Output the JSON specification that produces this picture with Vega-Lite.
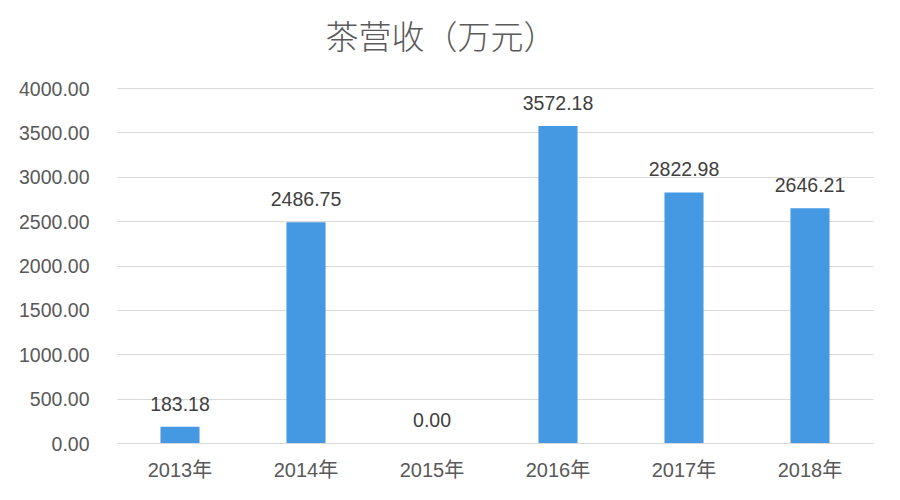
{
  "$schema": "https://vega.github.io/schema/vega-lite/v6.json",
  "autosize": "none",
  "width": 756,
  "height": 355,
  "padding": {"left": 117, "top": 88, "right": 27, "bottom": 57},
  "background": "white",
  "config": {
    "view": {"stroke": null},
    "font": "Liberation Sans, Noto Sans CJK SC"
  },
  "title": {
    "text": "茶营收（万元）",
    "font": "Noto Sans CJK SC",
    "fontSize": 33,
    "fontWeight": 300,
    "color": "#5a5a5a",
    "anchor": "middle",
    "dx": -54,
    "offset": 23
  },
  "data": {
    "values": [
      {"year": "2013年", "value": 183.18},
      {"year": "2014年", "value": 2486.75},
      {"year": "2015年", "value": 0.00},
      {"year": "2016年", "value": 3572.18},
      {"year": "2017年", "value": 2822.98},
      {"year": "2018年", "value": 2646.21}
    ]
  },
  "encoding": {
    "x": {
      "field": "year",
      "type": "nominal",
      "sort": null,
      "scale": {"paddingInner": 0.69, "paddingOuter": 0.345},
      "axis": {
        "title": null,
        "labelAngle": 0,
        "labelFontSize": 20,
        "labelColor": "#595959",
        "labelFont": "Liberation Sans, Noto Sans CJK SC",
        "labelPadding": 17,
        "ticks": false,
        "domain": true,
        "domainColor": "#d9d9d9",
        "domainWidth": 1
      }
    },
    "y": {
      "field": "value",
      "type": "quantitative",
      "scale": {"domain": [0, 4000]},
      "axis": {
        "title": null,
        "values": [0, 500, 1000, 1500, 2000, 2500, 3000, 3500, 4000],
        "format": ".2f",
        "labelFontSize": 19.5,
        "labelColor": "#595959",
        "labelPadding": 28,
        "labelOffset": 1,
        "ticks": false,
        "domain": false,
        "grid": true,
        "gridColor": "#d9d9d9",
        "gridWidth": 1
      }
    }
  },
  "layer": [
    {"mark": {"type": "bar", "color": "#4599e3"}},
    {
      "mark": {
        "type": "text",
        "dy": -16,
        "baseline": "alphabetic",
        "fontSize": 19.5,
        "color": "#404040",
        "font": "Liberation Sans"
      },
      "encoding": {"text": {"field": "value", "type": "quantitative", "format": ".2f"}}
    }
  ]
}
